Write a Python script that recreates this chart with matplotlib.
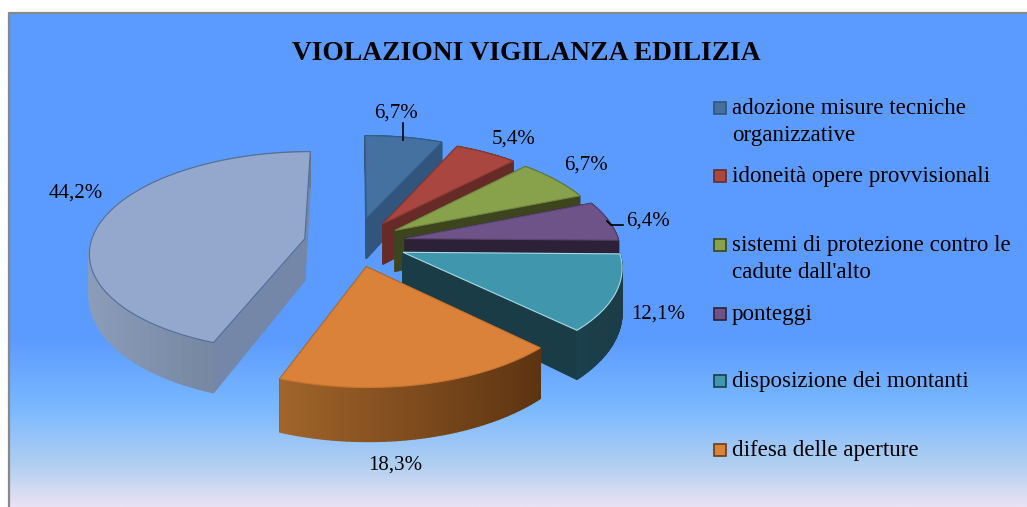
import numpy as np
import matplotlib
matplotlib.use('Agg')
import matplotlib.pyplot as plt
from matplotlib.colors import LinearSegmentedColormap, to_rgb
from matplotlib.patches import Polygon, Rectangle

# data
categories = ['adozione misure tecniche\norganizzative', 'idoneità opere provvisionali',
              'sistemi di protezione contro le\ncadute dall\'alto', 'ponteggi',
              'disposizione dei montanti', 'difesa delle aperture', 'altro']
values = [6.7, 5.4, 6.7, 6.4, 12.1, 18.3, 44.2]
labels = ['6,7%', '5,4%', '6,7%', '6,4%', '12,1%', '18,3%', '44,2%']

# styles
top_cols = ['#44719f', '#a8463f', '#87a24b', '#6e5388', '#3f96ad', '#da813a', '#94a8cd']
cut_cols = ['#31557c', '#662b27', '#3c451e', '#2c2136', '#193c47', '#6b3d14', '#7587a8']
arc_left = ['#31557c', '#662b27', '#3c451e', '#2c2136', '#1b414c', '#a2652b', '#8c9dbb']
arc_right = ['#31557c', '#662b27', '#3c451e', '#2c2136', '#1b3c46', '#5d3411', '#66778f']
edge_cols = ['#2f5f8f', '#8c3a35', '#74893f', '#5a4470', '#a9dbe6', '#c9742f', '#4f6f9f']
label_pos = [(396, 113), (514, 139), (586, 165), (648, 221), (658, 314), (395, 465), (76, 193)]
legend_y = [108, 176, 245, 314, 381, 450]

X0, Y0 = 355, 243
A, B, K = 214, 99, 0.125
DEPTH = 42
EXPLODE = [0.26, 0.24, 0.23, 0.24, 0.24, 0.24, 0.24]


def project(u, v, drop=0.0):
    s = 1 / (1 + K * v)
    return np.column_stack([X0 + A * u * s, Y0 - B * v * s + drop * DEPTH * s ** 1.5])


fig = plt.figure(figsize=(10.27, 5.07), dpi=100)
ax = fig.add_axes([0, 0, 1, 1])
ax.set_xlim(0, 1027)
ax.set_ylim(507, 0)
ax.axis('off')
plt.rcParams['font.family'] = ['Liberation Serif', 'DejaVu Serif']

# background
bg = LinearSegmentedColormap.from_list('bg', [(0, '#5b9bff'), (0.66, '#5b9bff'), (0.80, '#7ab8ff'),
                                              (0.92, '#b2d0f0'), (1, '#e9e2f4')])
ax.imshow(np.linspace(0, 1, 256)[:, None], cmap=bg, aspect='auto', extent=(9, 1027, 507, 13), zorder=0)
ax.set_xlim(0, 1027)
ax.set_ylim(507, 0)
ax.plot([9, 9, 1027], [507, 13, 13], color='#888888', lw=1.6, zorder=1)

ax.text(526, 53, 'VIOLAZIONI VIGILANZA EDILIZIA', fontsize=19.8, fontweight='bold',
        ha='center', va='center', zorder=5)

# slices, clockwise from the back of the pie
frac = np.array(values) / sum(values) * 2 * np.pi
ends = np.cumsum(frac)
starts = ends - frac
z = 2
for i in range(len(values)):
    mid = (starts[i] + ends[i]) / 2
    ou, ov = EXPLODE[i] * np.sin(mid), EXPLODE[i] * np.cos(mid)
    th = np.linspace(starts[i], ends[i], 60)
    u = ou + np.sin(th)
    v = ov + np.cos(th)
    apex = np.array([ou]), np.array([ov])
    top = project(u, v)
    low = project(u, v, 1)
    atop = project(*apex)
    alow = project(*apex, 1)

    walls = []
    for k in (0, -1):
        walls.append((v[k] + ov, [atop[0], top[k], low[k], alow[0]], cut_cols[i]))
    c0, c1 = np.array(to_rgb(arc_left[i])), np.array(to_rgb(arc_right[i]))
    xa, xb = top[:, 0].min(), top[:, 0].max()
    for k in range(len(th) - 1):
        t = (top[k, 0] - xa) / (xb - xa)
        walls.append((v[k] - 1, [top[k], top[k + 1], low[k + 1], low[k]], tuple(c0 + (c1 - c0) * t)))
    for d, pts, col in sorted(walls, key=lambda w: -w[0]):
        ax.add_patch(Polygon(pts, closed=True, fc=col, ec=col, lw=1.0, zorder=z))
    ax.add_patch(Polygon(np.vstack([atop, top]), closed=True, fc=top_cols[i], ec=edge_cols[i], lw=0.8, zorder=z))
    z += 1

# leader lines
ax.plot([403, 403], [123, 140], color='black', lw=1.2, zorder=20)
ax.plot([607, 611, 623], [221, 225, 225], color='black', lw=1.2, zorder=20)

for (x, y), t in zip(label_pos, labels):
    ax.text(x, y, t, fontsize=15, ha='center', va='center', zorder=21)

# legend
for y, name, col, ec in zip(legend_y, categories, top_cols, cut_cols):
    ax.add_patch(Rectangle((714, y - 6), 12, 12, fc=col, ec=ec, lw=1.2, zorder=20))
    ax.text(732, y - 10, name, fontsize=16.6, va='top', linespacing=1.4, zorder=21)

fig.savefig('out.png', dpi=100)
